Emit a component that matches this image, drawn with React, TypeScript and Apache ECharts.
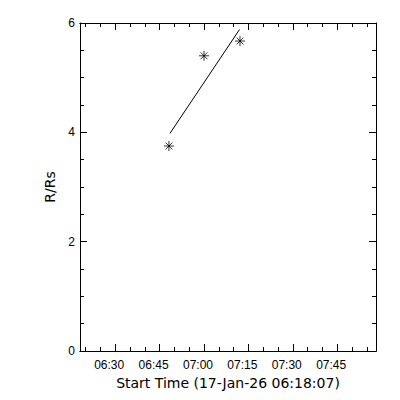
import React, { useEffect, useRef } from "react";
import * as echarts from "echarts";

const startTime = "06:18:07";
const endTime = "07:58:07";
const pointTimes = ["06:48:10", "07:00:00", "07:12:10"];
const pointValues = [3.75, 5.4, 5.67];
const fitTimes = ["06:48:30", "07:12:00"];
const fitValues = [3.98, 5.88];
const majorTickLabels = ["06:30", "06:45", "07:00", "07:15", "07:30", "07:45"];
const minorTickLabels = [
  "06:20", "06:25", "06:35", "06:40", "06:50", "06:55", "07:05", "07:10",
  "07:20", "07:25", "07:35", "07:40", "07:50", "07:55",
];
const yTicks = [0, 2, 4, 6];
const xTitle = "Start Time (17-Jan-26 06:18:07)";
const yTitle = "R/Rs";

const toSec = (s: string) => {
  const p = s.split(":").map(Number);
  return p[0] * 3600 + p[1] * 60 + (p[2] || 0);
};
const pad = (n: number) => (n < 10 ? "0" + n : "" + n);
const fmt = (v: number) => pad(Math.floor(v / 3600)) + ":" + pad(Math.floor((v % 3600) / 60));

export default function App() {
  const ref = useRef<HTMLDivElement>(null);
  useEffect(() => {
    if (!ref.current) return;
    const chart = echarts.init(ref.current, undefined, { renderer: "svg" });
    const xmin = toSec(startTime);
    const xmax = toSec(endTime);
    const majors = majorTickLabels.map(toSec);
    const minors = minorTickLabels.map(toSec);
    const lineStyle = { color: "#000", width: 1 };
    const font = { color: "#000", fontFamily: "Liberation Sans", fontSize: 12 };
    const nameFont = { color: "#000", fontFamily: "DejaVu Sans", fontSize: 14 };
    const baseX = (position: string, values: number[], len: number, labels: boolean, extra: any = {}) => ({
      type: "value",
      min: xmin,
      max: xmax,
      position,
      axisLine: { show: true, onZero: false, lineStyle },
      axisTick: { show: true, inside: true, length: len, customValues: values, lineStyle },
      axisLabel: labels
        ? {
            show: true,
            customValues: values,
            formatter: (v: number) => fmt(v),
            margin: 8,
            padding: [0, 12, 0, 0],
            ...font,
          }
        : { show: false },
      splitLine: { show: false },
      ...extra,
    });
    const baseY = (position: string, labels: boolean, extra: any = {}) => ({
      type: "value",
      min: yTicks[0],
      max: yTicks[yTicks.length - 1],
      interval: 2,
      position,
      axisLine: { show: true, onZero: false, lineStyle },
      axisTick: { show: true, inside: true, length: 7, lineStyle },
      minorTick: { show: true, splitNumber: 4, length: 4, lineStyle },
      axisLabel: labels ? { show: true, margin: 5, ...font } : { show: false },
      splitLine: { show: false },
      minorSplitLine: { show: false },
      ...extra,
    });
    chart.setOption({
      animation: false,
      backgroundColor: "#fff",
      grid: { left: 80, top: 23, right: 24, bottom: 49, containLabel: false },
      xAxis: [
        baseX("bottom", majors, 7, true, {
          name: xTitle,
          nameLocation: "middle",
          nameGap: 22,
          nameTextStyle: nameFont,
        }),
        baseX("bottom", minors, 4, false),
        baseX("top", majors, 7, false),
        baseX("top", minors, 4, false),
      ],
      yAxis: [
        baseY("left", true, {
          name: yTitle,
          nameLocation: "middle",
          nameGap: 20,
          nameTextStyle: nameFont,
        }),
        baseY("right", false),
      ],
      series: [
        {
          type: "line",
          xAxisIndex: 0,
          yAxisIndex: 0,
          data: fitTimes.map((t, i) => [toSec(t), fitValues[i]]),
          showSymbol: false,
          symbol: "none",
          lineStyle: { color: "#000", width: 1 },
        },
        {
          type: "scatter",
          xAxisIndex: 0,
          yAxisIndex: 0,
          data: pointTimes.map((t, i) => [toSec(t), pointValues[i]]),
          symbol: "path://M5,0L5,10M0,5L10,5M1.6,1.6L8.4,8.4M8.4,1.6L1.6,8.4",
          symbolSize: 10,
          itemStyle: { color: "transparent", borderColor: "#000", borderWidth: 1 },
        },
      ],
    });
    return () => chart.dispose();
  }, []);
  return (
    <div
      ref={ref}
      style={{ position: "fixed", left: 0, top: 0, width: 400, height: 400, background: "#fff" }}
    />
  );
}
